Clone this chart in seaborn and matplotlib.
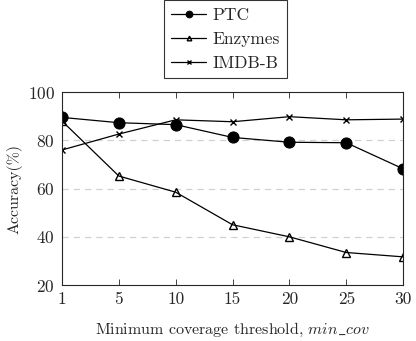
import matplotlib
matplotlib.use("Agg")
from matplotlib import pyplot as plt
import pandas as pd
import seaborn as sns

thresholds = ["1", "5", "10", "15", "20", "25", "30"]
ptc = [89.5, 87.3, 86.5, 81.2, 79.2, 79.0, 68.2]
enzymes = [88.0, 65.2, 58.5, 45.0, 40.0, 33.5, 31.7]
imdb_b = [76.0, 82.6, 88.5, 87.7, 89.8, 88.5, 88.8]

sns.set_style("ticks")
plt.rcParams['font.family'] = ['cmr10', 'DejaVu Serif']
plt.rcParams['mathtext.fontset'] = 'cm'
plt.rcParams['axes.formatter.use_mathtext'] = True

fig = plt.figure(figsize=(4.16, 3.41), dpi=100)
ax = fig.add_axes([0.149, 0.164, 0.82, 0.566])

styles = {
    "PTC": dict(marker="o", markersize=8, markerfacecolor="black"),
    "Enzymes": dict(marker="^", markersize=5.5, markerfacecolor="none", markeredgewidth=1.0),
    "IMDB-B": dict(marker="x", markersize=5, markeredgewidth=1.0),
}
for name, vals in [("PTC", ptc), ("Enzymes", enzymes), ("IMDB-B", imdb_b)]:
    df = pd.DataFrame({"min_cov": thresholds, "acc": vals})
    sns.lineplot(data=df, x="min_cov", y="acc", ax=ax, color="black",
                 linewidth=0.9, label=name, markeredgecolor="black", **styles[name])

ax.set_xlim(0, 6)
ax.set_ylim(20, 100)
ax.set_yticks([20, 40, 60, 80, 100])
for y in [40, 60, 80]:
    ax.axhline(y, color="#d0d0d0", linestyle=(0, (5, 4)), linewidth=0.9, zorder=0)
ax.tick_params(direction="in", top=True, right=True, labelsize=12.5, length=4, width=0.6, pad=5)
ax.tick_params(axis="y", length=0)
for s in ax.spines.values():
    s.set_linewidth(0.8)
ax.set_xlabel(r"Minimum coverage threshold, $\mathit{min\_cov}$", fontsize=11.5, labelpad=10)
ax.set_ylabel("Accuracy(%)", fontsize=11.5, labelpad=4)

leg = ax.legend(loc="lower center", bbox_to_anchor=(0.48, 1.03), frameon=True, fancybox=False,
                edgecolor="black", fontsize=12.5, handlelength=2.0, handletextpad=0.4,
                borderpad=0.4, labelspacing=0.5, markerscale=0.6)
leg.get_frame().set_linewidth(0.8)

plt.savefig("out.png", dpi=100)
